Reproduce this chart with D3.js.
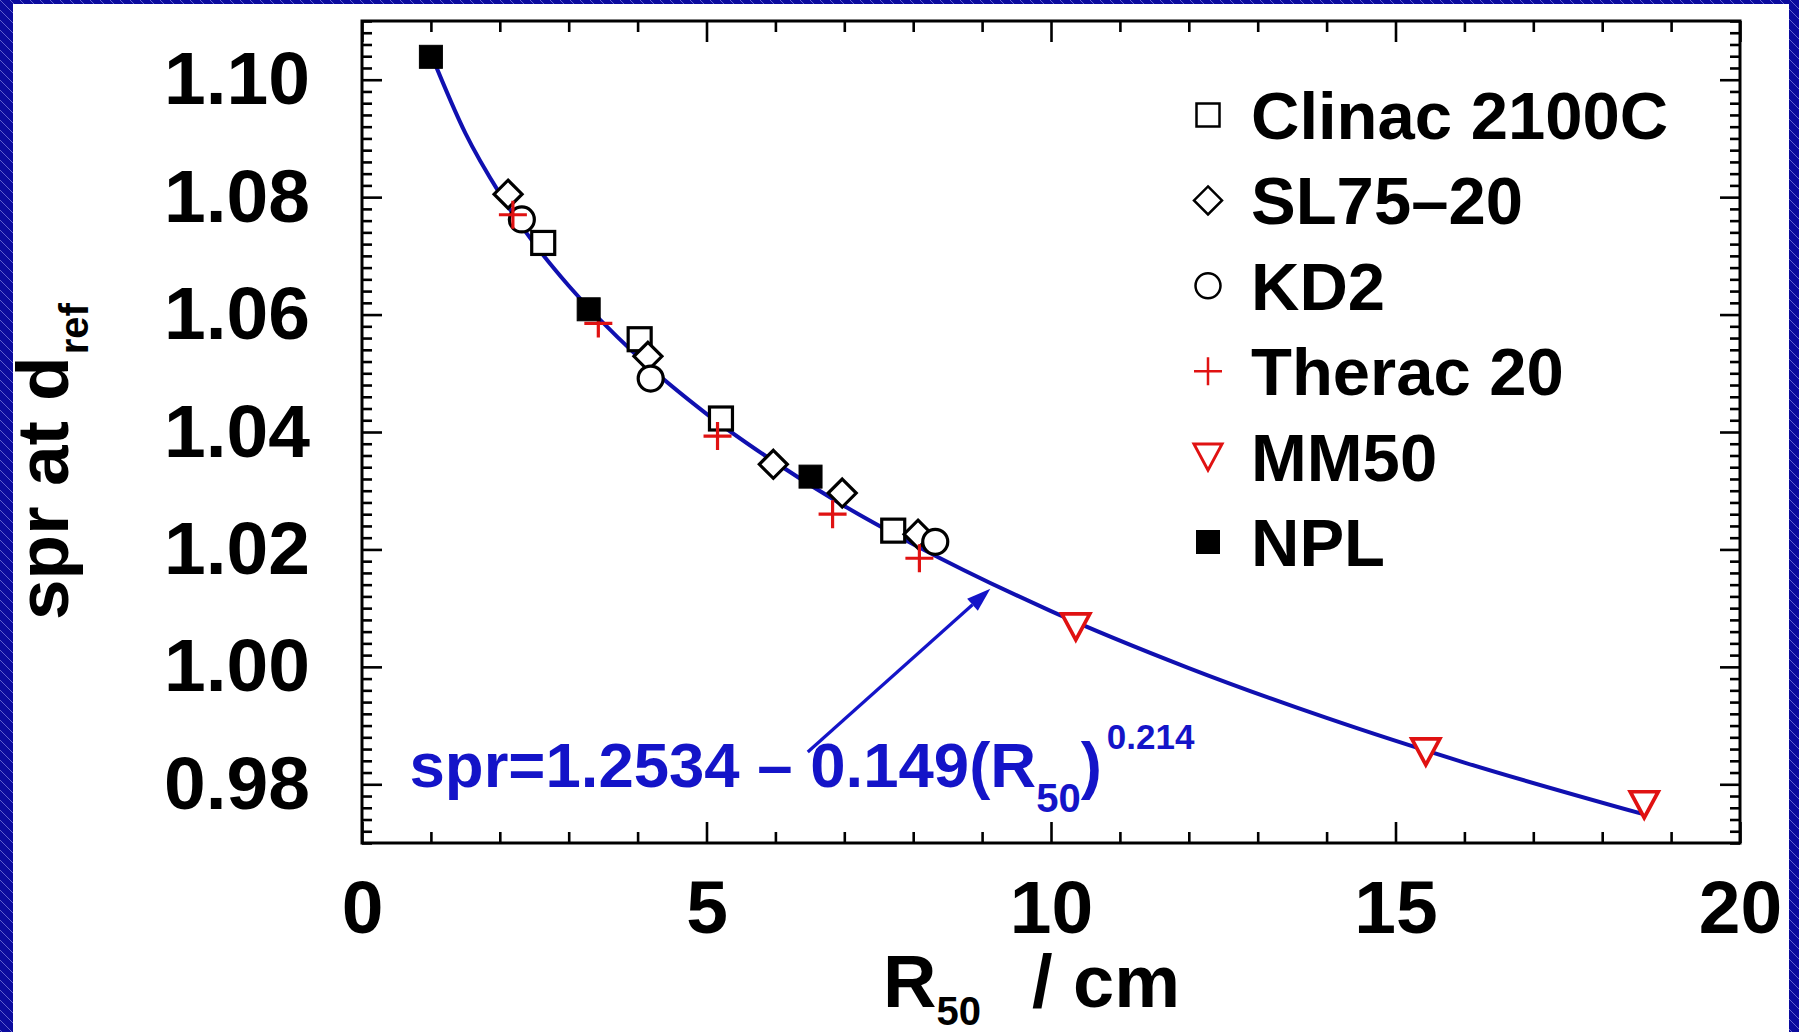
<!DOCTYPE html>
<html><head><meta charset="utf-8">
<script src="https://cdn.jsdelivr.net/npm/d3@7"></script>
<style>html,body{margin:0;padding:0;overflow:hidden;background:#fff}</style>
</head><body><svg id="c" width="1799" height="1032"></svg>
<script>
// ---- data ----
const seriesNames = ["Clinac 2100C", "SL75\u201320", "KD2", "Therac 20", "MM50", "NPL"];
const clinacR   = [2.63, 4.03, 5.21, 7.71];
const clinacSpr = [1.0722, 1.0558, 1.0423, 1.0232];
const sl75R     = [2.12, 4.15, 5.97, 6.97, 8.07];
const sl75Spr   = [1.0805, 1.0529, 1.0345, 1.0296, 1.0226];
const kd2R      = [2.32, 4.19, 8.32];
const kd2Spr    = [1.0762, 1.0491, 1.0213];
const theracR   = [2.19, 3.43, 5.16, 6.83, 8.09];
const theracSpr = [1.0770, 1.0585, 1.0393, 1.0260, 1.0185];
const mm50R     = [10.36, 15.44, 18.61];
const mm50Spr   = [1.0069, 0.9856, 0.9766];
const nplR      = [1.00, 3.29, 6.51];
const nplSpr    = [1.1039, 1.0609, 1.0324];
// fitted curve as drawn
const fitR   = [1.0, 1.5, 2.0, 2.5, 3.0, 4.0, 5.0, 6.0, 7.0, 8.0, 10.0, 12.0, 14.0, 16.0, 18.6];
const fitSpr = [1.1044, 1.0909, 1.0806, 1.0721, 1.0649, 1.0529, 1.0431, 1.0348, 1.0274, 1.0209, 1.0095, 0.9998, 0.9913, 0.9837, 0.9749];
const xTickValues = [0, 5, 10, 15, 20];
const xTickLabels = ["0", "5", "10", "15", "20"];
const yTickValues = [0.98, 1.00, 1.02, 1.04, 1.06, 1.08, 1.10];
const yTickLabels = ["0.98", "1.00", "1.02", "1.04", "1.06", "1.08", "1.10"];
const fitLabel = ["spr=1.2534 \u2013 0.149(R", "50", ")", "0.214"];

// ---- layout ----
const W = 1799, H = 1032;
const FONT = "'Liberation Sans', Arial, Helvetica, sans-serif";
const BLUE = "#1414c8", LINEBLUE = "#1010b0", RED = "#e01212";
const svg = d3.select("#c");

const defs = svg.append("defs");
const pat = defs.append("pattern").attr("id", "hatch").attr("patternUnits", "userSpaceOnUse")
  .attr("width", 10).attr("height", 10);
pat.append("rect").attr("width", 10).attr("height", 10).attr("fill", "#0b0b9e");
pat.append("path").attr("d", "M0,0 L10,10 M-1,9 L1,11 M9,-1 L11,1")
  .attr("stroke", "#5f5fcc").attr("stroke-width", 1);

svg.append("rect").attr("width", W).attr("height", H).attr("fill", "url(#hatch)");
svg.append("rect").attr("x", 13).attr("y", 4).attr("width", 1776).attr("height", H - 4).attr("fill", "#fff");

const plot = {left: 362, top: 21, right: 1740, bottom: 843};
const x = d3.scaleLinear().domain([0, 20]).range([plot.left, plot.right]);
const y = d3.scaleLinear().domain([0.97, 1.11]).range([plot.bottom, plot.top]);

// ---- axes ----
const xMinor = d3.range(0, 21, 1).filter(v => v % 5 !== 0);
const yMinor = d3.range(0, 71).map(i => +(0.97 + i * 0.002).toFixed(3))
  .filter(v => !yTickValues.some(t => Math.abs(t - v) < 1e-6));

function styleAxis(g) {
  g.select(".domain").remove();
  g.selectAll(".tick line").attr("stroke", "#000").attr("stroke-width", 2.6);
  g.selectAll("text").attr("font-family", FONT).attr("font-weight", "bold")
    .attr("font-size", 75).attr("fill", "#000");
}
// bottom
svg.append("g").attr("transform", `translate(0,${plot.bottom})`)
  .call(d3.axisBottom(x).tickValues(xMinor).tickSizeInner(-11).tickSizeOuter(0).tickFormat(""))
  .call(styleAxis);
svg.append("g").attr("transform", `translate(0,${plot.bottom})`)
  .call(d3.axisBottom(x).tickValues(xTickValues).tickSizeInner(-21).tickSizeOuter(0)
    .tickPadding(37).tickFormat((d, i) => xTickLabels[i]))
  .call(styleAxis);
// top
svg.append("g").attr("transform", `translate(0,${plot.top})`)
  .call(d3.axisTop(x).tickValues(xMinor).tickSizeInner(-11).tickSizeOuter(0).tickFormat(""))
  .call(styleAxis);
svg.append("g").attr("transform", `translate(0,${plot.top})`)
  .call(d3.axisTop(x).tickValues(xTickValues).tickSizeInner(-21).tickSizeOuter(0).tickFormat(""))
  .call(styleAxis);
// left
svg.append("g").attr("transform", `translate(${plot.left},0)`)
  .call(d3.axisLeft(y).tickValues(yMinor).tickSizeInner(-10).tickSizeOuter(0).tickFormat(""))
  .call(styleAxis);
svg.append("g").attr("transform", `translate(${plot.left},0)`)
  .call(d3.axisLeft(y).tickValues(yTickValues).tickSizeInner(-20).tickSizeOuter(0)
    .tickPadding(52).tickFormat((d, i) => yTickLabels[i]))
  .call(styleAxis);
// right
svg.append("g").attr("transform", `translate(${plot.right},0)`)
  .call(d3.axisRight(y).tickValues(yMinor).tickSizeInner(-10).tickSizeOuter(0).tickFormat(""))
  .call(styleAxis);
svg.append("g").attr("transform", `translate(${plot.right},0)`)
  .call(d3.axisRight(y).tickValues(yTickValues).tickSizeInner(-20).tickSizeOuter(0).tickFormat(""))
  .call(styleAxis);

// frame
svg.append("rect").attr("x", plot.left).attr("y", plot.top)
  .attr("width", plot.right - plot.left).attr("height", plot.bottom - plot.top)
  .attr("fill", "none").attr("stroke", "#000").attr("stroke-width", 3);

// ---- fit curve ----
const fitData = fitR.map((r, i) => [r, fitSpr[i]]);
svg.append("path").datum(fitData)
  .attr("d", d3.line().x(d => x(d[0])).y(d => y(d[1])).curve(d3.curveMonotoneX))
  .attr("fill", "none").attr("stroke", LINEBLUE).attr("stroke-width", 4);

// ---- markers ----
const markers = {
  "Clinac 2100C": (g, sw) => g.append("rect").attr("x", -11.5).attr("y", -11.5).attr("width", 23).attr("height", 23)
      .attr("fill", "#fff").attr("stroke", "#000").attr("stroke-width", sw),
  "SL75\u201320": (g, sw) => g.append("path").attr("d", "M0,-14L14,0L0,14L-14,0Z")
      .attr("fill", "#fff").attr("stroke", "#000").attr("stroke-width", sw),
  "KD2": (g, sw) => g.append("circle").attr("r", 12.5)
      .attr("fill", "#fff").attr("stroke", "#000").attr("stroke-width", sw),
  "Therac 20": (g, sw) => g.append("path").attr("d", "M-14,0H14M0,-14V14")
      .attr("fill", "none").attr("stroke", RED).attr("stroke-width", sw),
  "MM50": (g, sw) => g.append("path").attr("d", "M-14,-12.5L14,-12.5L0,13.5Z")
      .attr("fill", "#fff").attr("stroke", RED).attr("stroke-width", sw + 0.5).attr("stroke-linejoin", "miter"),
  "NPL": (g, sw) => g.append("rect").attr("x", -11.5).attr("y", -11.5).attr("width", 23).attr("height", 23)
      .attr("fill", "#000").attr("stroke", "#000").attr("stroke-width", 1)
};
const seriesData = [
  [clinacR, clinacSpr], [sl75R, sl75Spr], [kd2R, kd2Spr],
  [theracR, theracSpr], [mm50R, mm50Spr], [nplR, nplSpr]
];
seriesNames.forEach((name, s) => {
  const [rs, vs] = seriesData[s];
  rs.forEach((r, i) => {
    const g = svg.append("g").attr("transform", `translate(${x(r)},${y(vs[i])})`);
    markers[name](g, 3.2);
  });
});

// ---- legend ----
seriesNames.forEach((name, i) => {
  const cy = 115 + i * 85.4;
  const g = svg.append("g").attr("transform", `translate(1208,${cy})`);
  markers[name](g, 2.5);
  svg.append("text").attr("x", 1251).attr("y", cy + 24)
    .attr("font-family", FONT).attr("font-weight", "bold").attr("font-size", 67)
    .attr("fill", "#000").text(name);
});

// ---- fit annotation ----
const ft = svg.append("text").attr("x", x(0.69)).attr("y", y(0.9795))
  .attr("font-family", FONT).attr("font-weight", "bold").attr("font-size", 63.5).attr("fill", BLUE);
ft.append("tspan").text(fitLabel[0]);
ft.append("tspan").attr("font-size", 40).attr("dy", 25).text(fitLabel[1]);
ft.append("tspan").attr("dy", -25).text(fitLabel[2]);
ft.append("tspan").attr("font-size", 35).attr("dy", -38).attr("dx", 5).text(fitLabel[3]);

// arrow
const a0 = [x(6.47), y(0.9855)], a1 = [x(9.12), y(1.0133)];
const ang = Math.atan2(a1[1] - a0[1], a1[0] - a0[0]);
const hl = 24, hw = 8;
const base = [a1[0] - hl * Math.cos(ang), a1[1] - hl * Math.sin(ang)];
svg.append("line").attr("x1", a0[0]).attr("y1", a0[1]).attr("x2", base[0]).attr("y2", base[1])
  .attr("stroke", BLUE).attr("stroke-width", 3.2);
svg.append("path").attr("d", `M${a1[0]},${a1[1]}L${base[0] - hw * Math.sin(ang)},${base[1] + hw * Math.cos(ang)}L${base[0] + hw * Math.sin(ang)},${base[1] - hw * Math.cos(ang)}Z`)
  .attr("fill", BLUE);

// ---- axis titles ----
const xt = svg.append("text").attr("x", 883).attr("y", 1007)
  .attr("font-family", FONT).attr("font-weight", "bold").attr("font-size", 74).attr("fill", "#000");
xt.append("tspan").text("R");
xt.append("tspan").attr("font-size", 40).attr("dy", 18).text("50");
svg.append("text").attr("x", 1032).attr("y", 1007)
  .attr("font-family", FONT).attr("font-weight", "bold").attr("font-size", 74).attr("fill", "#000")
  .text("/ cm");

const yt = svg.append("text").attr("transform", "translate(68,620) rotate(-90)")
  .attr("font-family", FONT).attr("font-weight", "bold").attr("font-size", 73).attr("fill", "#000");
yt.append("tspan").text("spr at d");
yt.append("tspan").attr("font-size", 40).attr("dy", 20).attr("dx", 2).text("ref");
</script>
</body></html>
